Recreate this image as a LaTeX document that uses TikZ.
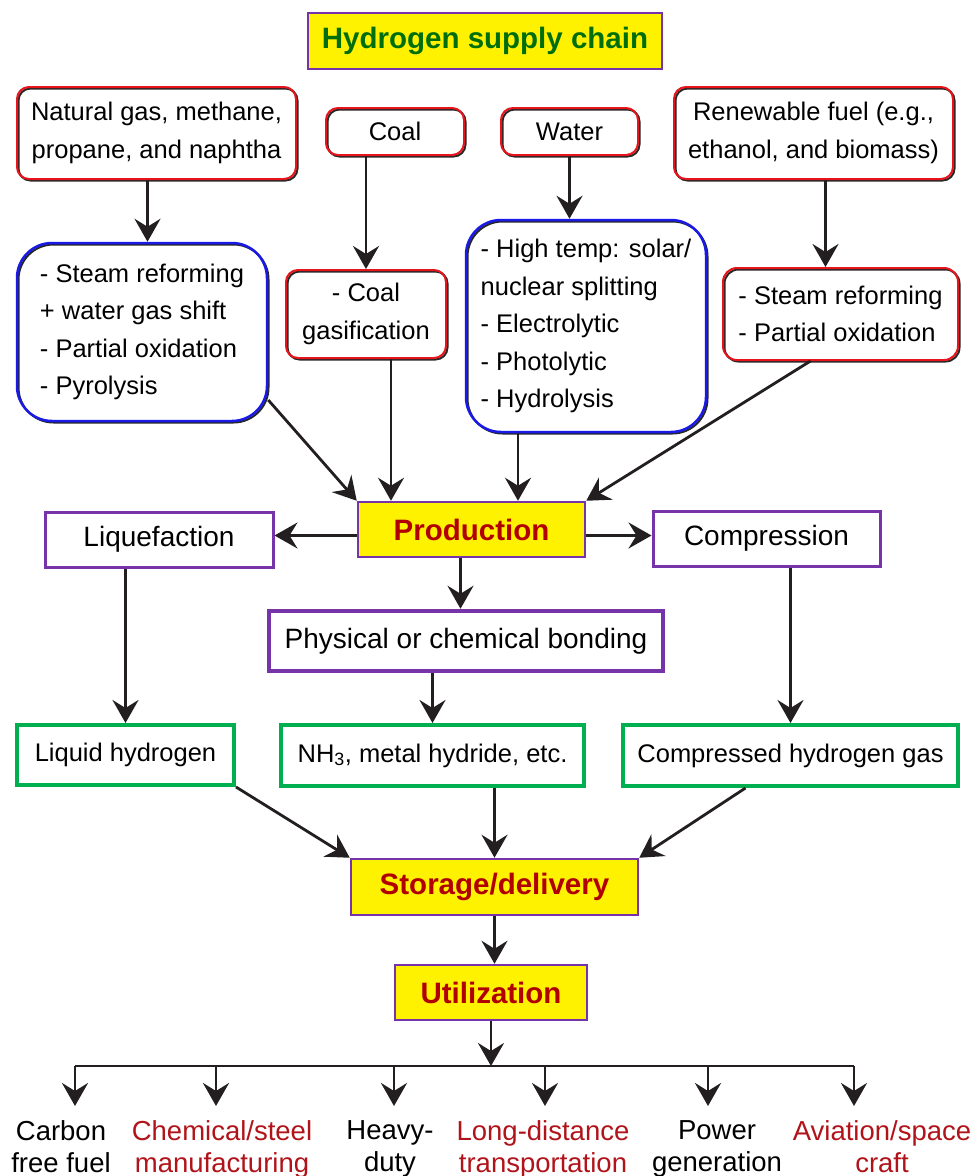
\documentclass[tikz,border=0pt]{standalone}
\usepackage{fontspec}
\setmainfont{Liberation Sans}
\usetikzlibrary{arrows.meta}
\definecolor{srcred}{HTML}{E8141C}
\definecolor{procblue}{HTML}{1A1AE6}
\definecolor{boxpurple}{HTML}{7634A8}
\definecolor{boxgreen}{HTML}{00B050}
\definecolor{stagered}{HTML}{B00000}
\definecolor{titlegreen}{HTML}{006E0A}
\definecolor{usered}{HTML}{B0141A}
\definecolor{arrowgray}{HTML}{231F20}

\begin{document}
\begin{tikzpicture}[
		x=1pt, y=-1pt,
		every node/.style = {shape=rectangle, align=center, inner sep=0pt,
			font=\fontsize{25.5}{37.5}\selectfont},
		shadowed/.style = {preaction={draw=black!85, line width=2pt,
			transform canvas={shift={(1.5pt,-1.5pt)}}}},
		source/.style = {draw=srcred, line width=2pt, rounded corners=12pt, shadowed},
		process/.style = {draw=procblue, line width=2.5pt, rounded corners=35pt, shadowed},
		stage/.style = {draw=boxpurple, line width=2.5pt, fill=yellow, text=stagered,
			font=\fontsize{29.5}{34}\selectfont\bfseries},
		method/.style = {draw=boxpurple, line width=3pt,
			font=\fontsize{28}{32}\selectfont},
		carrier/.style = {draw=boxgreen, line width=4pt},
		enduse/.style = {anchor=north, inner ysep=14pt,
			font=\fontsize{27.5}{32}\selectfont},
		line/.style = {draw=arrowgray, line width=2.8pt},
		arr/.style = {line, -{Stealth[length=23pt,width=26pt,inset=8pt]}}]
		\useasboundingbox (0,0) rectangle (974,1176);

		\node[stage, text=titlegreen, minimum width=354pt, minimum height=56pt] (title) at (485,41) {Hydrogen supply chain};

		\node[source, minimum width=279pt, minimum height=92pt] (gas) at (156.5,133) {Natural gas, methane,\\propane, and naphtha};
		\node[source, minimum width=138pt, minimum height=47pt] (coal) at (395,131.5) {Coal};
		\node[source, minimum width=137pt, minimum height=47pt] (water) at (569.5,131.5) {Water};
		\node[source, minimum width=279pt, minimum height=92pt] (renew) at (813.5,133) {Renewable fuel (e.g.,\\ethanol, and biomass)};

		\node[process, align=left, minimum width=250pt, minimum height=178pt] (gasproc) at (142,332) {- Steam reforming\\+ water gas shift\\- Partial oxidation\\- Pyrolysis};
		\node[source, minimum width=160pt, minimum height=88pt] (coalproc) at (366,314) {- Coal\\gasification};
		\node[process, align=left, minimum width=240pt, minimum height=212pt] (waterproc) at (586,326) {- High temp: solar/\\nuclear splitting\\- Electrolytic\\- Photolytic\\- Hydrolysis};
		\node[source, rounded corners=14pt, align=left, minimum width=235pt, minimum height=92pt] (renewproc) at (840.5,314) {- Steam reforming\\- Partial oxidation};

		\node[stage, minimum width=227pt, minimum height=55pt] (production) at (471.5,529.5) {Production};
		\node[method, minimum width=228pt, minimum height=55pt] (liquefaction) at (159,539.5) {Liquefaction};
		\node[method, minimum width=227pt, minimum height=55pt] (compression) at (766.5,538.5) {Compression};
		\node[method, line width=4.5pt, minimum width=394pt, minimum height=60pt] (bonding) at (466,641) {Physical or chemical bonding};

		\node[carrier, minimum width=217pt, minimum height=60pt] (liquid) at (125.5,755) {Liquid hydrogen};
		\node[carrier, minimum width=303pt, minimum height=61pt] (nh3) at (432.5,755.5) {NH\textsubscript{3}, metal hydride, etc.};
		\node[carrier, minimum width=335pt, minimum height=61pt] (compressed) at (790.5,755.5) {Compressed hydrogen gas};

		\node[stage, minimum width=287pt, minimum height=56pt] (storage) at (494.5,887) {Storage/delivery};
		\node[stage, minimum width=192pt, minimum height=55pt] (utilization) at (491,992.5) {Utilization};
		\coordinate (bus) at (487,1066);

		\node[enduse] (u1) at (61,1106) {Carbon\\free fuel};
		\node[enduse, text=usered] (u2) at (222,1106) {Chemical/steel\\manufacturing};
		\node[enduse] (u3) at (390,1106) {Heavy-\\duty};
		\node[enduse, text=usered] (u4) at (543,1106) {Long-distance\\transportation};
		\node[enduse] (u5) at (717,1106) {Power\\generation};
		\node[enduse, text=usered] (u6) at (882,1106) {Aviation/space\\craft};

		\draw[arr] ([xshift=-9pt]gas.south) -- ([xshift=-9pt]gas.south |- gasproc.north);
		\draw[arr] (coalproc.north |- coal.south) -- (coalproc.north);
		\draw[arr] (water.south) -- (water.south |- waterproc.north);
		\draw[arr] ([xshift=12pt]renew.south) -- ([xshift=12pt]renew.south |- renewproc.north);

		\draw[arr] ([yshift=-68pt]gasproc.east) -- (production.north west);
		\draw[arr] ([xshift=25pt]coalproc.south) -- ([xshift=25pt]coalproc.south |- production.north);
		\draw[arr] ([xshift=-68pt]waterproc.south) -- ([xshift=-68pt]waterproc.south |- production.north);
		\draw[arr] ([xshift=-30pt]renewproc.south) -- (production.north east);

		\draw[arr] ([yshift=-6pt]production.west) -- ([yshift=-6pt]production.west -| liquefaction.east);
		\draw[arr] ([yshift=-6pt]production.east) -- ([yshift=-6pt]production.east -| compression.west);
		\draw[arr] ([xshift=-11pt]production.south) -- ([xshift=-11pt]production.south |- bonding.north);

		\draw[arr] (liquid.north |- liquefaction.south) -- (liquid.north);
		\draw[arr] (nh3.north |- bonding.south) -- (nh3.north);
		\draw[arr] (compressed.north |- compression.south) -- (compressed.north);

		\draw[arr] (liquid.south east) -- (storage.north west);
		\draw[arr] (storage.north |- nh3.south) -- (storage.north);
		\draw[arr] ([xshift=-45pt]compressed.south) -- (storage.north east);
		\draw[arr] (storage.south) -- (storage.south |- utilization.north);
		\draw[arr] (utilization.south) -- (utilization.south |- bus);

		\draw[line] ([xshift=14pt]u1.north |- bus) -- ([xshift=-28pt]u6.north |- bus);
		\foreach \n/\s in {u1/14,u2/-6,u3/4,u4/2,u5/-9,u6/-28}
			\draw[arr] ([xshift=\s pt]\n.north |- bus) -- ([xshift=\s pt]\n.north);
\end{tikzpicture}
\end{document}
